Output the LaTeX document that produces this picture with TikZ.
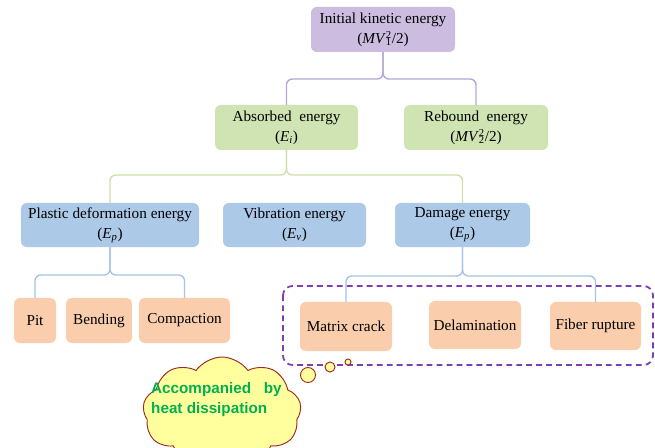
\documentclass[tikz,border=0pt]{standalone}
\usepackage{fontspec}
\setmainfont{Liberation Serif}
\setsansfont{Liberation Sans}
\usepackage{xcolor}
\usepackage{tikz}
\usetikzlibrary{shapes.symbols}

\newcommand{\subsup}[2]{\rlap{\textsubscript{#1}}\textsuperscript{#2}}

\begin{document}
\begin{tikzpicture}[x=0.03cm,y=0.03cm,
  box/.style={rounded corners=5pt,align=center,inner sep=1pt,
    font=\fontsize{13}{17}\selectfont},
  topbox/.style={box,fill=pu},
  midbox/.style={box,fill=gn},
  lowbox/.style={box,fill=bl},
  leafbox/.style={box,fill=og},
  link/.style={line width=1.2pt,rounded corners=5pt},
  puff/.style={draw=rd,fill=yl,line width=0.8pt}]
\definecolor{pu}{RGB}{203,188,224}
\definecolor{gn}{RGB}{208,227,178}
\definecolor{bl}{RGB}{172,201,232}
\definecolor{og}{RGB}{250,206,172}
\definecolor{lpu}{RGB}{182,165,212}
\definecolor{lgn}{RGB}{205,224,168}
\definecolor{lbl}{RGB}{165,195,226}
\definecolor{dpu}{RGB}{125,62,175}
\definecolor{rd}{RGB}{160,40,30}
\definecolor{yl}{RGB}{255,255,158}
\definecolor{tg}{RGB}{0,176,80}
\useasboundingbox (0,0) rectangle (655,447);
\node[topbox,minimum width=4.32cm,minimum height=1.35cm] (init) at (383,417.5) {Initial kinetic energy\\(\textit{MV}\subsup{1}{2}/2)};
\node[midbox,minimum width=4.29cm,minimum height=1.35cm] (absorbed) at (286.5,319.5) {Absorbed\ \ energy\\(\textit{E}\textsubscript{\textit{i}})};
\node[midbox,minimum width=4.32cm,minimum height=1.35cm] (rebound) at (476,319.5) {Rebound\ \ energy\\(\textit{MV}\subsup{2}{2}/2)};
\node[lowbox,minimum width=5.34cm,minimum height=1.32cm] (plastic) at (110,222) {Plastic deformation energy\\(\textit{E}\textsubscript{\textit{p}})};
\node[lowbox,minimum width=4.29cm,minimum height=1.32cm] (vibration) at (294.5,222) {Vibration energy\\(\textit{E}\textsubscript{\textit{v}})};
\node[lowbox,minimum width=4.05cm,minimum height=1.32cm] (damage) at (462.5,222) {Damage energy\\(\textit{E}\textsubscript{\textit{p}})};
\node[leafbox,minimum width=1.26cm,minimum height=1.35cm] (pit) at (35,126.5) {Pit};
\node[leafbox,minimum width=1.98cm,minimum height=1.35cm] (bending) at (99,126.5) {Bending};
\node[leafbox,minimum width=2.73cm,minimum height=1.35cm] (compaction) at (184.5,126.5) {Compaction};
\node[leafbox,minimum width=2.76cm,minimum height=1.47cm] (matrix) at (346,120.5) {Matrix crack};
\node[leafbox,minimum width=2.76cm,minimum height=1.44cm] (delamination) at (475,122) {Delamination};
\node[leafbox,minimum width=2.73cm,minimum height=1.44cm] (fiber) at (595.5,121) {Fiber rupture};
\coordinate (jInit) at (383,368);
\coordinate (jAbs) at (286.5,272);
\coordinate (jPla) at (110,172);
\coordinate (jDam) at (462.5,171);
\draw[link,lpu] (absorbed.north) |- (jInit) -- (init.south);
\draw[link,lpu] (rebound.north) |- (jInit) -- (init.south);
\draw[link,lgn] (plastic.north) |- (jAbs) -- (absorbed.south);
\draw[link,lgn] (damage.north) |- (jAbs) -- (absorbed.south);
\draw[link,lbl] (pit.north) |- (jPla) -- (plastic.south);
\draw[link,lbl] (compaction.north) |- (jPla) -- (plastic.south);
\draw[link,lbl] (matrix.north) |- (jDam) -- (damage.south);
\draw[link,lbl] (fiber.north) |- (jDam) -- (damage.south);
\draw[dpu,line width=1.5pt,dash pattern=on 5pt off 3.5pt,rounded corners=8pt] (283,161) rectangle (653,82);
\node[puff,cloud,cloud puffs=9,cloud puff arc=110,cloud ignores aspect,minimum width=4.75cm,minimum height=3.3cm] (heat) at (222,35) {};
\node[puff,circle,inner sep=0pt,minimum size=0.45cm] (bub1) at (308,72) {};
\node[puff,circle,inner sep=0pt,minimum size=0.3cm] (bub2) at (330,80) {};
\node[puff,circle,inner sep=0pt,minimum size=0.18cm] (bub3) at (348,85) {};
\node[anchor=west,align=left,inner sep=0pt,tg,font=\fontsize{13}{17}\sffamily\bfseries] (heattext) at (151,47) {Accompanied\ \ \ by\\heat dissipation};
\end{tikzpicture}
\end{document}
